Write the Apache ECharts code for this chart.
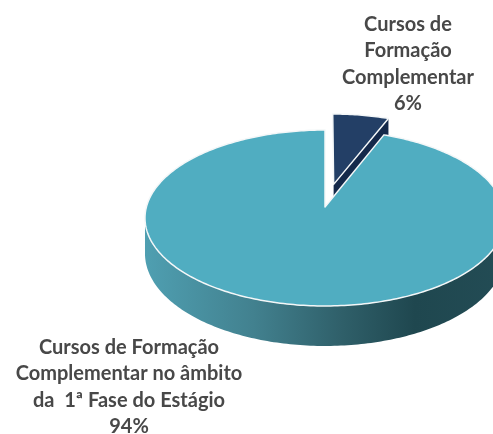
<!DOCTYPE html>
<html>
<head>
<meta charset="utf-8">
<script src="https://cdn.jsdelivr.net/npm/echarts@6/dist/echarts.min.js"></script>
<style>
  html, body { margin: 0; padding: 0; background: #fff; }
  #main { width: 493px; height: 434px; }
</style>
</head>
<body>
<div id="main"></div>
<script>
// data
const categories = [
  'Cursos de\nFormação\nComplementar',
  'Cursos de Formação\nComplementar no âmbito\nda  1ª Fase do Estágio'
];
const shares = [6, 94];

// look of each slice
const topColors = ['#233F66', '#50ADC1'];
const sideColors = ['#14294A', null];
const labelAnchors = [[408, 11], [129, 334]];
const explode = [[0.05, 0.27, 0.97], [0, 0, 1]];

// tilted disc: perspective projection of a unit circle
const CX = 325, CY = 207, R = 178.6, H = 86.6, K = 0.125, DEPTH = 35;

function project(u, v, drop) {
  const w = 1 + K * v;
  return [CX + R * u / w, CY - H * v / w + (drop || 0) / w];
}

const total = shares.reduce((a, b) => a + b, 0);

function renderSlice(params, api) {
  const i = params.dataIndex;
  const val = api.value(0);
  let start = 0;
  for (let k = 0; k < i; k++) start += shares[k];
  const a0 = start / total * Math.PI * 2;
  const a1 = (start + val) / total * Math.PI * 2;
  const [ox, oy, rad] = explode[i];

  const rim = [];
  const steps = Math.max(8, Math.round((a1 - a0) * 60));
  for (let s = 0; s <= steps; s++) {
    const a = a0 + (a1 - a0) * s / steps;
    rim.push([ox + rad * Math.sin(a), oy + rad * Math.cos(a)]);
  }

  const children = [];
  if (i === 0) {
    // cut face of the small slice, the big slice covers most of it
    const pts = [[ox, oy], rim[rim.length - 1]];
    children.push({
      type: 'polygon',
      shape: {
        points: [project(pts[0][0], pts[0][1]), project(pts[1][0], pts[1][1]),
                 project(pts[1][0], pts[1][1], DEPTH), project(pts[0][0], pts[0][1], DEPTH)]
      },
      style: { fill: sideColors[i] }
    });
  } else {
    // outer wall, only the part that faces the viewer
    const front = rim.filter(p => p[1] <= -K);
    const upper = front.map(p => project(p[0], p[1]));
    const lower = front.map(p => project(p[0], p[1], DEPTH)).reverse();
    children.push({
      type: 'polygon',
      shape: { points: upper.concat(lower) },
      style: {
        fill: new echarts.graphic.LinearGradient(0, 0, 1, 0, [
          { offset: 0, color: '#4F9FB1' },
          { offset: 0.3, color: '#42818F' },
          { offset: 0.55, color: '#2F5F69' },
          { offset: 0.75, color: '#1F474F' },
          { offset: 1, color: '#234C55' }
        ])
      }
    });
  }

  children.push({
    type: 'polygon',
    shape: { points: [project(ox, oy)].concat(rim.map(p => project(p[0], p[1]))) },
    style: { fill: topColors[i], stroke: '#F4F7F8', lineWidth: 1.5, lineJoin: 'round' }
  });

  children.push({
    type: 'text',
    style: {
      x: labelAnchors[i][0],
      y: labelAnchors[i][1],
      text: categories[i] + '\n' + val + '%',
      align: 'center',
      verticalAlign: 'top',
      fill: '#484848',
      font: 'bold 20px Lato',
      lineHeight: 26.5
    }
  });
  return { type: 'group', children };
}

const chart = echarts.init(document.getElementById('main'), null, { renderer: 'canvas' });
chart.setOption({
  animation: false,
  backgroundColor: '#fff',
  series: [{
    type: 'custom',
    coordinateSystem: 'none',
    silent: true,
    renderItem: renderSlice,
    data: shares.map(v => [v])
  }]
});
</script>
</body>
</html>
